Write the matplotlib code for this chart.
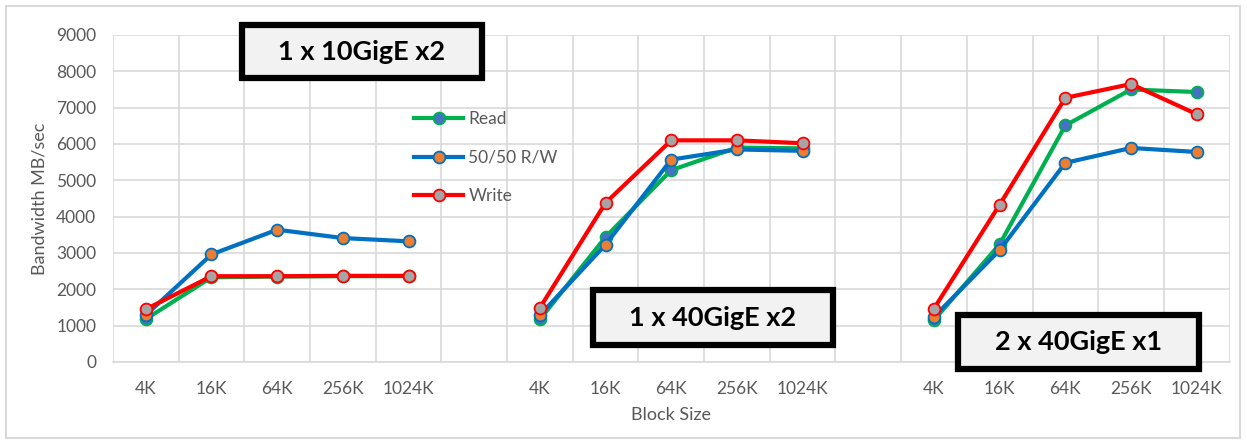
import numpy as np
import matplotlib.pyplot as plt
from matplotlib.patches import Rectangle

plt.rcParams['font.family'] = ['Lato', 'DejaVu Sans']

blocks = ["4K", "16K", "64K", "256K", "1024K"]
groups = ["1 x 10GigE x2", "1 x 40GigE x2", "2 x 40GigE x1"]

read = [[1180, 2330, 2350, 2360, 2360],
        [1170, 3440, 5280, 5900, 5880],
        [1150, 3240, 6510, 7500, 7430]]
mixed = [[1290, 2960, 3640, 3410, 3320],
         [1290, 3230, 5570, 5850, 5810],
         [1240, 3080, 5480, 5890, 5780]]
write = [[1450, 2360, 2360, 2370, 2370],
         [1490, 4380, 6100, 6100, 6020],
         [1470, 4330, 7270, 7650, 6820]]

# categories with a blank slot between the groups
labels = []
for i in range(len(groups)):
    labels += blocks
    if i < len(groups) - 1:
        labels += [""]
n = len(labels)

def spread(series):
    out = []
    for i, s in enumerate(series):
        out += list(s)
        if i < len(series) - 1:
            out += [np.nan]
    return np.array(out, dtype=float)

x = np.arange(n)

W, H = 1247, 443
fig = plt.figure(figsize=(W / 100, H / 100), dpi=100)
ax = fig.add_axes([0.0906, 0.183, 0.8954, 0.738])

styles = [("Read", read, "#00b050", "#4472c4"),
          ("50/50 R/W", mixed, "#0070c0", "#ed7d31"),
          ("Write", write, "#ff0000", "#a5a5a5")]
for name, data, lc, fc in styles:
    ax.plot(x, spread(data), "-o", color=lc, lw=3, markersize=8.5,
            markerfacecolor=fc, markeredgecolor=lc, markeredgewidth=1.3,
            label=name, zorder=3)

ax.set_xlim(-0.5, n - 0.5)
ax.set_ylim(0, 9000)
ax.set_yticks(np.arange(0, 9001, 1000))
ax.set_xticks(x)
ax.set_xticklabels(labels)
ax.set_xticks(np.arange(-0.5, n, 1), minor=True)
ax.grid(True, which="minor", axis="x", color="#d9d9d9", lw=1.2)
ax.grid(True, which="major", axis="y", color="#d9d9d9", lw=1.2)
ax.set_axisbelow(True)
for s in ["top", "right", "left"]:
    ax.spines[s].set_visible(False)
ax.spines["bottom"].set_color("#d9d9d9")
ax.spines["bottom"].set_linewidth(1.2)
ax.tick_params(which="both", length=0, labelsize=12.5, colors="#595959")
ax.tick_params(axis="x", pad=14)
ax.tick_params(axis="y", pad=12)

ax.set_ylabel("Bandwidth MB/sec", fontsize=13, color="#595959", labelpad=6)
ax.set_xlabel("Block Size", fontsize=13, color="#595959", labelpad=7)

leg = ax.legend(loc="upper left", bbox_to_anchor=(0.256, 0.815), frameon=False,
                fontsize=12.5, handlelength=2.8, handletextpad=0.3,
                labelspacing=1.3)
for t in leg.get_texts():
    t.set_color("#595959")

# title boxes (pixel boxes: left, top, right, bottom)
boxes = [(242, 25, 482, 78), (593, 290, 833, 345), (958, 315, 1199, 369)]
for g, (l, t, r, b) in zip(groups, boxes):
    fig.patches.append(Rectangle((l / W, 1 - b / H), (r - l) / W, (b - t) / H,
                                 transform=fig.transFigure, facecolor="#f2f2f2",
                                 edgecolor="black", lw=4.5, zorder=10))
    fig.text((l + r) / 2 / W, 1 - (t + b) / 2 / H, g, ha="center", va="center",
             fontsize=19.5, fontweight="bold", color="black", zorder=11)

fig.patches.append(Rectangle((0.005, 0.012), 0.989, 0.975,
                             transform=fig.transFigure, fill=False,
                             edgecolor="#d9d9d9", lw=1.5))

plt.savefig("out.png", dpi=100)
